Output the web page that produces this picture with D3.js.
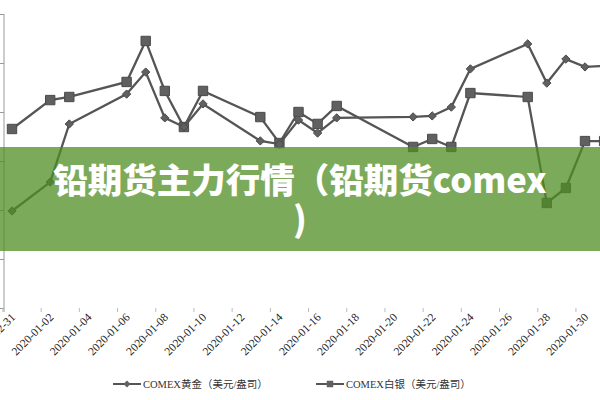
<!DOCTYPE html>
<html><head><meta charset="utf-8">
<script src="https://cdn.jsdelivr.net/npm/d3@7/dist/d3.min.js"></script>
<style>html,body{margin:0;padding:0;background:#fff;overflow:hidden}</style>
</head><body>
<svg id="c" width="600" height="400"></svg>
<script>
const dates = ["2019-12-31","2020-01-02","2020-01-03","2020-01-06","2020-01-07","2020-01-08","2020-01-09","2020-01-10","2020-01-13","2020-01-14","2020-01-15","2020-01-16","2020-01-17","2020-01-21","2020-01-22","2020-01-23","2020-01-24","2020-01-27","2020-01-28","2020-01-29","2020-01-30","2020-01-31"];
const gold = [1519.6,1531.4,1555.1,1567.3,1576.3,1557.6,1553.9,1563.3,1548.2,1546.9,1556.7,1551.4,1557.6,1558.0,1558.4,1562.0,1577.6,1587.8,1571.8,1581.6,1578.4,1578.8];
const silver = [17.896,18.073,18.092,18.184,18.435,18.129,17.908,18.129,17.969,17.810,18.000,17.927,18.037,17.786,17.835,17.786,18.116,18.092,17.443,17.535,17.822,17.822];
const goldTicks = [1480,1500,1520,1540,1560,1580,1600];
const silverTicks = [16.8,17.1,17.4,17.7,18.0,18.3,18.6];
const tickDates = ["2019-12-31","2020-01-02","2020-01-04","2020-01-06","2020-01-08","2020-01-10","2020-01-12","2020-01-14","2020-01-16","2020-01-18","2020-01-20","2020-01-22","2020-01-24","2020-01-26","2020-01-28","2020-01-30"];
const legendNames = ["COMEX黄金（美元/盎司）","COMEX白银（美元/盎司）"];
const titleLines = ["铅期货主力行情（铅期货comex", ")"];

const svg = d3.select("#c");
const parse = d3.utcParse("%Y-%m-%d");
const DAY = 864e5;
const x = d3.scaleUtc().domain([parse("2019-12-31"), parse("2020-01-31")]).range([12, 12 + 19.1*31]);
const yG = d3.scaleLinear().domain([1480,1600]).range([308,14]);
const yS = d3.scaleLinear().domain([16.8,18.6]).range([308,14]);

// y axis
const ya = svg.append("g").attr("transform","translate(4,0)")
  .call(d3.axisLeft(yG).tickValues(goldTicks).tickSize(4).tickFormat(""));
ya.selectAll("path,line").attr("stroke","#9a9a9a");
ya.select(".domain").attr("d","M0,14V312");

// x axis ticks at slot boundaries
const bounds = tickDates.map(d => new Date(parse(d).getTime() - DAY/2));
const xa = svg.append("g").attr("transform","translate(0,308)")
  .call(d3.axisBottom(x).tickValues(bounds).tickSize(4).tickFormat(""));
xa.select(".domain").remove();
xa.selectAll("line").attr("stroke","#bbb");

svg.append("g").selectAll("text").data(tickDates).join("text")
  .attr("transform", d => `translate(${x(parse(d))+4},318) rotate(-45)`)
  .attr("text-anchor","end")
  .attr("font-family","'Liberation Serif','DejaVu Serif',serif")
  .attr("font-size",11.5).attr("fill","#222")
  .text(d => d);

const col = "#555";
function series(vals, y, shape) {
  const pts = dates.map((d,i)=>[x(parse(d)), y(vals[i])]);
  svg.append("path").attr("d", d3.line()(pts)).attr("fill","none")
    .attr("stroke",col).attr("stroke-width",2.3);
  svg.append("g").selectAll("path").data(pts).join("path")
    .attr("transform", p=>`translate(${p[0]},${p[1]})`)
    .attr("d", shape === "diamond" ? d3.symbol(d3.symbolDiamond2, 44)() : d3.symbol(d3.symbolSquare, 88)())
    .attr("fill","#606060").attr("stroke","#4a4a4a").attr("stroke-width",1);
}
series(silver, yS, "square");
series(gold, yG, "diamond");

// legend
const lg = svg.append("g");
[[113,"diamond"],[316,"square"]].forEach(([lx,shape],i)=>{
  lg.append("line").attr("x1",lx).attr("x2",lx+28).attr("y1",384).attr("y2",384)
    .attr("stroke",col).attr("stroke-width",2);
  lg.append("path").attr("transform",`translate(${lx+14},384)`)
    .attr("d", shape==="diamond"? d3.symbol(d3.symbolDiamond2,30)() : d3.symbol(d3.symbolSquare,42)())
    .attr("fill","#606060");
  lg.append("text").attr("x",lx+30).attr("y",388)
    .attr("font-family","'Liberation Serif','Noto Sans CJK SC',serif")
    .attr("font-size",10.5).attr("fill","#333").text(legendNames[i]);
});

// overlay band
svg.append("rect").attr("x",0).attr("y",147).attr("width",600).attr("height",104)
  .attr("fill","rgb(80,142,36)").attr("fill-opacity",0.75);
const t = svg.append("text").attr("text-anchor","middle")
  .attr("font-family","'Noto Sans CJK SC',sans-serif").attr("font-weight",900)
  .attr("font-size",34.5).attr("fill","#fff");
titleLines.forEach((s,i)=>t.append("tspan").attr("x",300).attr("y",193+i*39).text(s));
</script>
</body></html>
